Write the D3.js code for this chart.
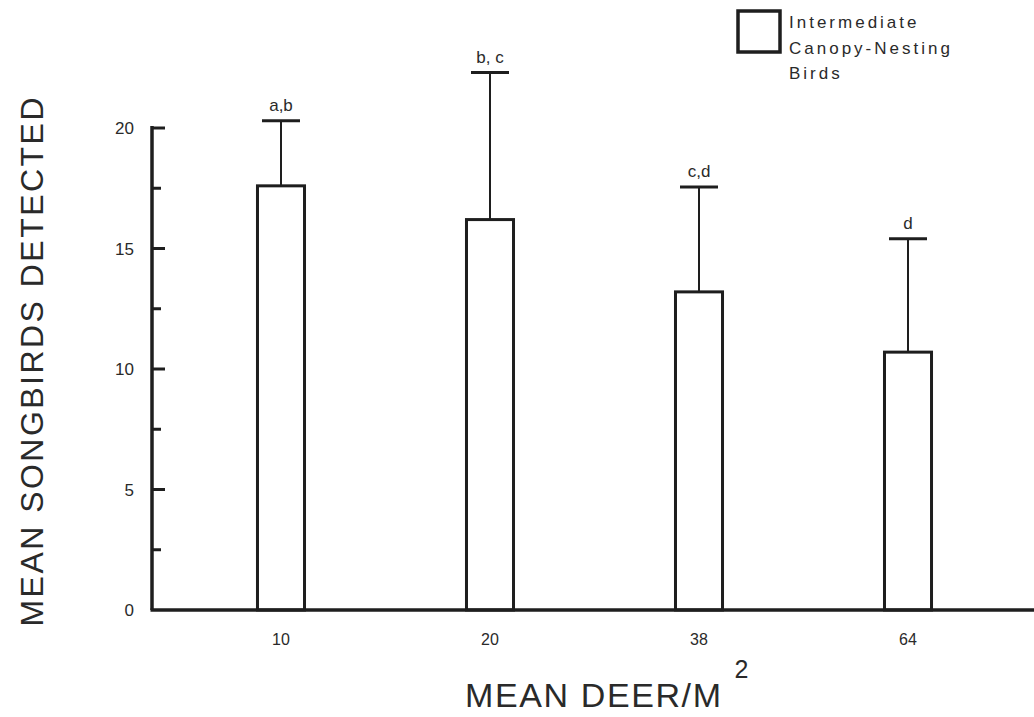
<!DOCTYPE html>
<html><head><meta charset="utf-8">
<script src="https://cdn.jsdelivr.net/npm/d3@7"></script>
<style>
html,body{margin:0;padding:0;background:#fff;}
svg{display:block;}
text{font-family:"Liberation Sans",Arial,sans-serif;fill:#2a2a2a;}
</style></head>
<body>
<svg id="chart" width="1034" height="717"></svg>
<script>
const categories = ["10", "20", "38", "64"];
const means = [17.6, 16.2, 13.2, 10.7];
const errors = [2.7, 6.1, 4.35, 4.7];
const letters = ["a,b", "b, c", "c,d", "d"];
const yTicks = [0, 5, 10, 15, 20];
const yMinorTicks = [2.5, 7.5, 12.5, 17.5];
const legendLines = ["Intermediate", "Canopy-Nesting", "Birds"];

const svg = d3.select("#chart");
const ink = "#1e1e1e";

const x = d3.scaleBand().domain(categories).range([172, 1017]).paddingInner(0.775).paddingOuter(0.409);
const y = d3.scaleLinear().domain([0, 20]).range([610, 128]);
const axisX0 = 152;

// Bars
const g = svg.append("g");
g.selectAll("rect.bar").data(categories).join("rect")
  .attr("class", "bar")
  .attr("x", d => x(d))
  .attr("width", x.bandwidth())
  .attr("y", (d, i) => y(means[i]))
  .attr("height", (d, i) => y(0) - y(means[i]))
  .attr("fill", "#fff").attr("stroke", ink).attr("stroke-width", 3);

// Error bars
g.selectAll("line.err").data(categories).join("line")
  .attr("x1", d => x(d) + x.bandwidth() / 2).attr("x2", d => x(d) + x.bandwidth() / 2)
  .attr("y1", (d, i) => y(means[i])).attr("y2", (d, i) => y(means[i] + errors[i]))
  .attr("stroke", ink).attr("stroke-width", 2);
g.selectAll("line.cap").data(categories).join("line")
  .attr("x1", d => x(d) + x.bandwidth() / 2 - 19).attr("x2", d => x(d) + x.bandwidth() / 2 + 19)
  .attr("y1", (d, i) => y(means[i] + errors[i])).attr("y2", (d, i) => y(means[i] + errors[i]))
  .attr("stroke", ink).attr("stroke-width", 3);
g.selectAll("text.sig").data(categories).join("text")
  .attr("x", d => x(d) + x.bandwidth() / 2)
  .attr("y", (d, i) => y(means[i] + errors[i]) - 10)
  .attr("text-anchor", "middle").attr("font-size", 17)
  .text((d, i) => letters[i]);

// Y axis
const yAxis = svg.append("g");
yAxis.append("line").attr("x1", axisX0).attr("x2", axisX0).attr("y1", y(20) - 2).attr("y2", y(0))
  .attr("stroke", ink).attr("stroke-width", 3.5);
yAxis.selectAll("line.major").data(yTicks.filter(t => t > 0)).join("line")
  .attr("x1", axisX0).attr("x2", axisX0 + 13).attr("y1", d => y(d)).attr("y2", d => y(d))
  .attr("stroke", ink).attr("stroke-width", 3);
yAxis.selectAll("line.minor").data(yMinorTicks).join("line")
  .attr("x1", axisX0).attr("x2", axisX0 + 9).attr("y1", d => y(d)).attr("y2", d => y(d))
  .attr("stroke", ink).attr("stroke-width", 3);
yAxis.selectAll("text").data(yTicks).join("text")
  .attr("x", 134).attr("y", d => y(d) + 6)
  .attr("text-anchor", "end").attr("font-size", 17)
  .text(d => d);

// X axis
svg.append("line").attr("x1", axisX0 - 1.5).attr("x2", 1034).attr("y1", y(0)).attr("y2", y(0))
  .attr("stroke", ink).attr("stroke-width", 3.5);
svg.selectAll("text.xt").data(categories).join("text")
  .attr("class", "xt")
  .attr("x", d => x(d) + x.bandwidth() / 2).attr("y", 645)
  .attr("text-anchor", "middle").attr("font-size", 16)
  .text(d => d);

// Axis titles
svg.append("text")
  .attr("transform", "translate(43,362) rotate(-90)")
  .attr("text-anchor", "middle").attr("font-size", 32)
  .attr("textLength", 529).attr("lengthAdjust", "spacing")
  .text("MEAN  SONGBIRDS DETECTED");

const xt = svg.append("text").attr("x", 465).attr("y", 707).attr("font-size", 34);
xt.append("tspan").attr("textLength", 256).attr("lengthAdjust", "spacing").text("MEAN DEER/M");
xt.append("tspan").attr("dx", 12).attr("dy", -29).attr("font-size", 25).text("2");

// Legend
const leg = svg.append("g");
leg.append("rect").attr("x", 738).attr("y", 11).attr("width", 42).attr("height", 41)
  .attr("fill", "#fff").attr("stroke", ink).attr("stroke-width", 3.5);
leg.selectAll("text").data(legendLines).join("text")
  .attr("x", 789).attr("y", (d, i) => 28 + i * 25.5)
  .attr("font-size", 17).attr("letter-spacing", 3)
  .attr("fill", "#444")
  .text(d => d);
</script>
</body></html>
